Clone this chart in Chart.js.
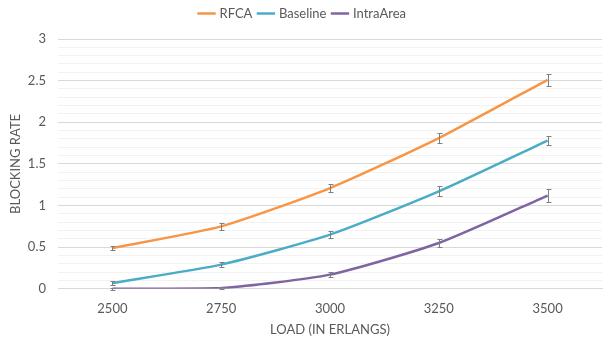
<!DOCTYPE html>
<html>
<head>
<meta charset="utf-8">
<script src="https://cdn.jsdelivr.net/npm/chart.js@4/dist/chart.umd.min.js"></script>
<style>
  html, body { margin: 0; padding: 0; background: #fff; }
  #wrap { width: 612px; height: 342px; }
</style>
</head>
<body>
<div id="wrap"><canvas id="blockChart" width="612" height="342"></canvas></div>
<script>
const loads = ['2500', '2750', '3000', '3250', '3500'];
const rfca = [0.49, 0.75, 1.21, 1.81, 2.51];
const baseline = [0.07, 0.29, 0.65, 1.17, 1.78];
const intraArea = [0.0, 0.01, 0.17, 0.55, 1.12];
const rfcaErr = [0.03, 0.04, 0.05, 0.06, 0.075];
const baselineErr = [0.02, 0.03, 0.04, 0.06, 0.05];
const intraErr = [0.01, 0.01, 0.03, 0.05, 0.08];
const yTicks = [0, 0.5, 1, 1.5, 2, 2.5, 3];

const textGray = '#595959';
const fontFamily = 'Lato, "Open Sans", sans-serif';

// draws the little grey error bars on every point
const errorBars = {
  id: 'errorBars',
  afterDatasetsDraw(chart) {
    const { ctx, scales: { y } } = chart;
    ctx.save();
    ctx.strokeStyle = '#7f7f7f';
    ctx.lineWidth = 1;
    chart.data.datasets.forEach((ds, i) => {
      const meta = chart.getDatasetMeta(i);
      meta.data.forEach((pt, j) => {
        const e = ds.errors[j];
        const top = Math.round(y.getPixelForValue(ds.data[j] + e)) + 0.5;
        const bot = Math.round(y.getPixelForValue(ds.data[j] - e)) + 0.5;
        const x = Math.round(pt.x) + 0.5;
        ctx.beginPath();
        ctx.moveTo(x, top); ctx.lineTo(x, bot);
        ctx.moveTo(x - 2, top); ctx.lineTo(x + 3, top);
        ctx.moveTo(x - 2, bot); ctx.lineTo(x + 3, bot);
        ctx.stroke();
      });
    });
    ctx.restore();
  }
};

// a bit more room under the legend
const legendGap = {
  id: 'legendGap',
  beforeInit(chart) {
    const fit = chart.legend.fit;
    chart.legend.fit = function () {
      fit.bind(chart.legend)();
      this.height += 9;
    };
  }
};

const isMajor = (v) => yTicks.some(t => Math.abs(t - v) < 1e-6);

function series(label, data, errors, color) {
  return {
    label: label,
    data: data,
    errors: errors,
    borderColor: color,
    backgroundColor: color,
    borderWidth: 2.5,
    pointRadius: 0,
    tension: 0.2
  };
}

new Chart(document.getElementById('blockChart').getContext('2d'), {
  type: 'line',
  data: {
    labels: loads,
    datasets: [
      series('RFCA', rfca, rfcaErr, '#f79646'),
      series('Baseline', baseline, baselineErr, '#4bacc6'),
      series('IntraArea', intraArea, intraErr, '#8064a2')
    ]
  },
  options: {
    responsive: false,
    animation: false,
    layout: { padding: { left: 4, right: 10, top: 0, bottom: 4 } },
    plugins: {
      tooltip: { enabled: false },
      legend: {
        position: 'top',
        labels: {
          usePointStyle: true,
          pointStyle: 'line',
          boxWidth: 14,
          padding: 7,
          color: textGray,
          font: { family: fontFamily, size: 13 }
        }
      }
    },
    scales: {
      x: {
        offset: true,
        grid: { display: false },
        border: { color: '#d9d9d9' },
        ticks: { color: textGray, font: { family: fontFamily, size: 13 }, padding: 4 },
        title: {
          display: true,
          text: 'LOAD (IN ERLANGS)',
          color: textGray,
          font: { family: fontFamily, size: 13 },
          padding: { top: 2, bottom: 0 }
        }
      },
      y: {
        min: 0,
        max: 3,
        afterFit(scale) { scale.width = 54; },
        border: { display: false },
        grid: {
          drawTicks: false,
          color: (c) => isMajor(c.tick.value) ? '#d9d9d9' : '#f2f2f2'
        },
        ticks: {
          stepSize: 0.1,
          autoSkip: false,
          padding: 12,
          color: textGray,
          font: { family: fontFamily, size: 13 },
          callback: (v) => isMajor(v) ? String(Math.round(v * 10) / 10) : ''
        },
        title: {
          display: true,
          text: 'BLOCKING RATE',
          color: textGray,
          font: { family: fontFamily, size: 13 },
          padding: { bottom: 0 }
        }
      }
    }
  },
  plugins: [errorBars, legendGap]
});
</script>
</body>
</html>
